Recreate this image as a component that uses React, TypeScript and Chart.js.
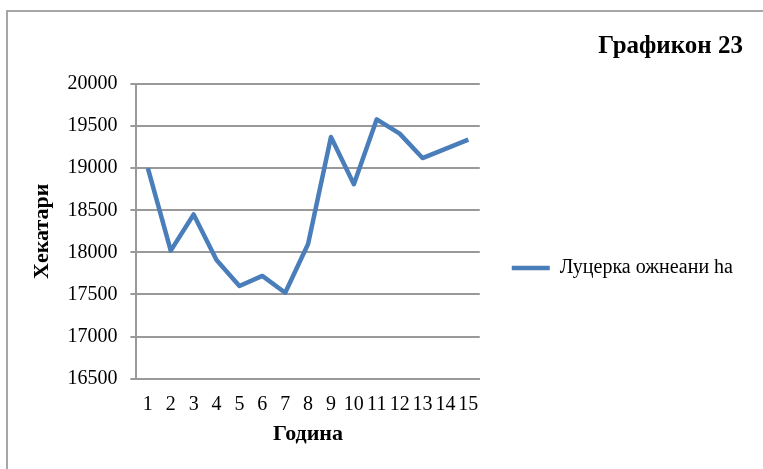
import React, { useEffect, useRef } from 'react';
import { Chart, registerables } from 'chart.js';

Chart.register(...registerables);

const years: string[] = ['1', '2', '3', '4', '5', '6', '7', '8', '9', '10', '11', '12', '13', '14', '15'];
const hectares: number[] = [19000, 18020, 18450, 17910, 17600, 17720, 17520, 18100, 19370, 18810, 19580, 19410, 19120, 19230, 19340];
const yMin = 16500;
const yMax = 20000;
const yStep = 500;
const seriesLabel = 'Луцерка ожнеани ha';
const chartTitle = 'Графикон 23';
const xAxisTitle = 'Година';
const yAxisTitle = 'Хекатари';

const FONT = "'Liberation Serif', 'Times New Roman', serif";
const GRID = '#999999';
const LINE = '#4a7ebb';

export default function App() {
  const ref = useRef<HTMLCanvasElement | null>(null);

  useEffect(() => {
    if (!ref.current) return;
    const chart = new Chart(ref.current, {
      type: 'line',
      data: {
        labels: years,
        datasets: [
          {
            label: seriesLabel,
            data: hectares,
            borderColor: LINE,
            backgroundColor: LINE,
            borderWidth: 4.5,
            pointRadius: 0,
            pointHoverRadius: 0,
            tension: 0,
            borderJoinStyle: 'round',
            pointStyle: 'line',
          },
        ],
      },
      options: {
        responsive: false,
        animation: false,
        layout: { padding: { left: 10, right: 20, top: 0, bottom: 0 } },
        plugins: {
          tooltip: { enabled: false },
          title: {
            display: true,
            text: chartTitle,
            align: 'end',
            color: '#000',
            font: { family: FONT, size: 25, weight: 'bold' },
            padding: { top: 32, bottom: 22 },
          },
          legend: {
            display: true,
            position: 'right',
            align: 'center',
            maxWidth: 340,
            title: {
              display: true,
              text: '',
              font: { family: FONT, size: 10, lineHeight: 1 },
              padding: { top: 57, bottom: 0 },
            },
            labels: {
              color: '#000',
              font: { family: FONT, size: 20 },
              usePointStyle: true,
              pointStyle: 'line',
              pointStyleWidth: 38,
              padding: 32,
            },
          },
        },
        scales: {
          x: {
            offset: true,
            grid: { display: false, drawTicks: false },
            border: { display: true, color: GRID, width: 2 },
            ticks: {
              color: '#000',
              font: { family: FONT, size: 20 },
              padding: 14,
              autoSkip: false,
              maxRotation: 0,
            },
            title: {
              display: true,
              text: xAxisTitle,
              color: '#000',
              font: { family: FONT, size: 22, weight: 'bold' },
              padding: { top: -9, bottom: 21 },
            },
          },
          y: {
            min: yMin,
            max: yMax,
            grid: { color: GRID, lineWidth: 2, drawTicks: true, tickLength: 6 },
            border: { display: true, color: GRID, width: 2 },
            ticks: {
              stepSize: yStep,
              color: '#000',
              font: { family: FONT, size: 20 },
              padding: 13,
              callback: (v: any) => String(v),
            },
            title: {
              display: true,
              text: yAxisTitle,
              color: '#000',
              font: { family: FONT, size: 22, weight: 'bold' },
              padding: { top: 19, bottom: -1 },
            },
          },
        },
      },
    });
    return () => chart.destroy();
  }, []);

  return (
    <div
      style={{
        position: 'absolute',
        left: 0,
        top: 0,
        width: 763,
        height: 469,
        overflow: 'hidden',
        background: '#fff',
      }}
    >
      <div
        style={{
          position: 'absolute',
          left: 6,
          top: 10,
          width: 800,
          height: 500,
          borderLeft: '2px solid #a6a6a6',
          borderTop: '2px solid #a6a6a6',
        }}
      />
      <canvas
        ref={ref}
        width={763}
        height={469}
        style={{ position: 'absolute', left: 0, top: 0, width: 763, height: 469, display: 'block' }}
      />
    </div>
  );
}
